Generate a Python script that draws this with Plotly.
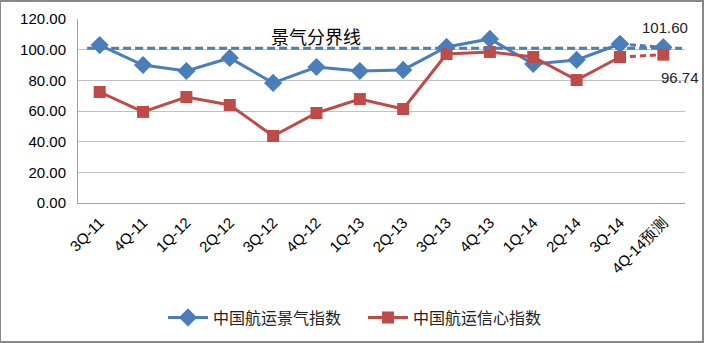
import plotly.graph_objects as go

categories = ["3Q-11", "4Q-11", "1Q-12", "2Q-12", "3Q-12", "4Q-12", "1Q-13",
              "2Q-13", "3Q-13", "4Q-13", "1Q-14", "2Q-14", "3Q-14", "4Q-14预测"]
prosperity = [103.0, 90.0, 86.1, 94.6, 78.3, 88.7, 86.1, 86.8, 101.8, 107.0,
              90.7, 93.3, 103.7, 101.60]
confidence = [72.4, 59.4, 69.1, 63.9, 43.7, 58.7, 67.8, 61.3, 97.2, 98.5,
              95.2, 80.2, 95.2, 96.74]
threshold = 101
yticks = [0, 20, 40, 60, 80, 100, 120]

blue = "#4a7ebb"
red = "#be4b48"

fig = go.Figure()

fig.add_shape(type="line", xref="paper", yref="y", x0=0.015, x1=0.995,
              y0=threshold, y1=threshold,
              line=dict(color=blue, width=3, dash="8px,4px"), layer="above")

fig.add_trace(go.Scatter(x=categories[:-1], y=prosperity[:-1], mode="lines+markers",
                         name="中国航运景气指数", line=dict(color=blue, width=3),
                         marker=dict(symbol="diamond", size=14, color=blue)))
fig.add_trace(go.Scatter(x=categories[:-1], y=confidence[:-1], mode="lines+markers",
                         name="中国航运信心指数", line=dict(color=red, width=3),
                         marker=dict(symbol="square", size=12, color=red)))
fig.add_trace(go.Scatter(x=categories[-2:], y=prosperity[-2:], mode="lines+markers",
                         showlegend=False, line=dict(color=blue, width=3, dash="6px,4px"),
                         marker=dict(symbol="diamond", size=14, color=blue)))
fig.add_trace(go.Scatter(x=categories[-2:], y=confidence[-2:], mode="lines+markers",
                         showlegend=False, line=dict(color=red, width=3, dash="6px,4px"),
                         marker=dict(symbol="square", size=12, color=red)))

fig.add_annotation(x=categories[5], y=threshold, xref="x", yref="y",
                   text="景气分界线", showarrow=False, yshift=12,
                   xshift=0, font=dict(size=18, color="#000000",
                                       family="Noto Sans CJK SC"))
fig.add_annotation(x=categories[-1], y=prosperity[-1], text=f"{prosperity[-1]:.2f}",
                   showarrow=False, yshift=20, xshift=2,
                   font=dict(size=15, color="#222222", family="Liberation Sans"))
fig.add_annotation(x=categories[-1], y=confidence[-1], text=f"{confidence[-1]:.2f}",
                   showarrow=False, yshift=-23, xshift=17,
                   font=dict(size=15, color="#222222", family="Liberation Sans"))

fig.update_layout(
    width=704, height=343,
    margin=dict(l=78, r=19, t=19, b=140, autoexpand=False),
    paper_bgcolor="white", plot_bgcolor="white",
    font=dict(family="Liberation Sans", size=14, color="#000000"),
    legend=dict(orientation="h", x=0.14, xanchor="left", y=-0.53, yanchor="top",
                font=dict(size=16, family="Noto Sans CJK SC", color="#222222"),
                itemwidth=40, tracegroupgap=0, entrywidth=145,
                entrywidthmode="pixels"),
    showlegend=True,
)
fig.update_xaxes(type="category", showgrid=False, tickangle=-45,
                 tickfont=dict(size=15), showline=True, linecolor="#a0a0a0",
                 ticks="", range=[-0.5, len(categories) - 0.5], automargin=False,
                 ticklabelstandoff=4)
fig.update_yaxes(range=[0, 120], tickvals=yticks,
                 ticktext=[f"{v:.2f}" for v in yticks],
                 tickfont=dict(size=15), showgrid=True, gridcolor="#c0c0c0",
                 showline=True, linecolor="#a0a0a0", zeroline=False, ticks="",
                 ticklabelstandoff=8, automargin=False)

fig.add_shape(type="rect", xref="paper", yref="paper",
              x0=-78/607, x1=1 + 18/607, y0=-139/184, y1=1 + 18/184,
              line=dict(color="#888888", width=2), fillcolor="rgba(0,0,0,0)")

fig.write_html("out.html")
